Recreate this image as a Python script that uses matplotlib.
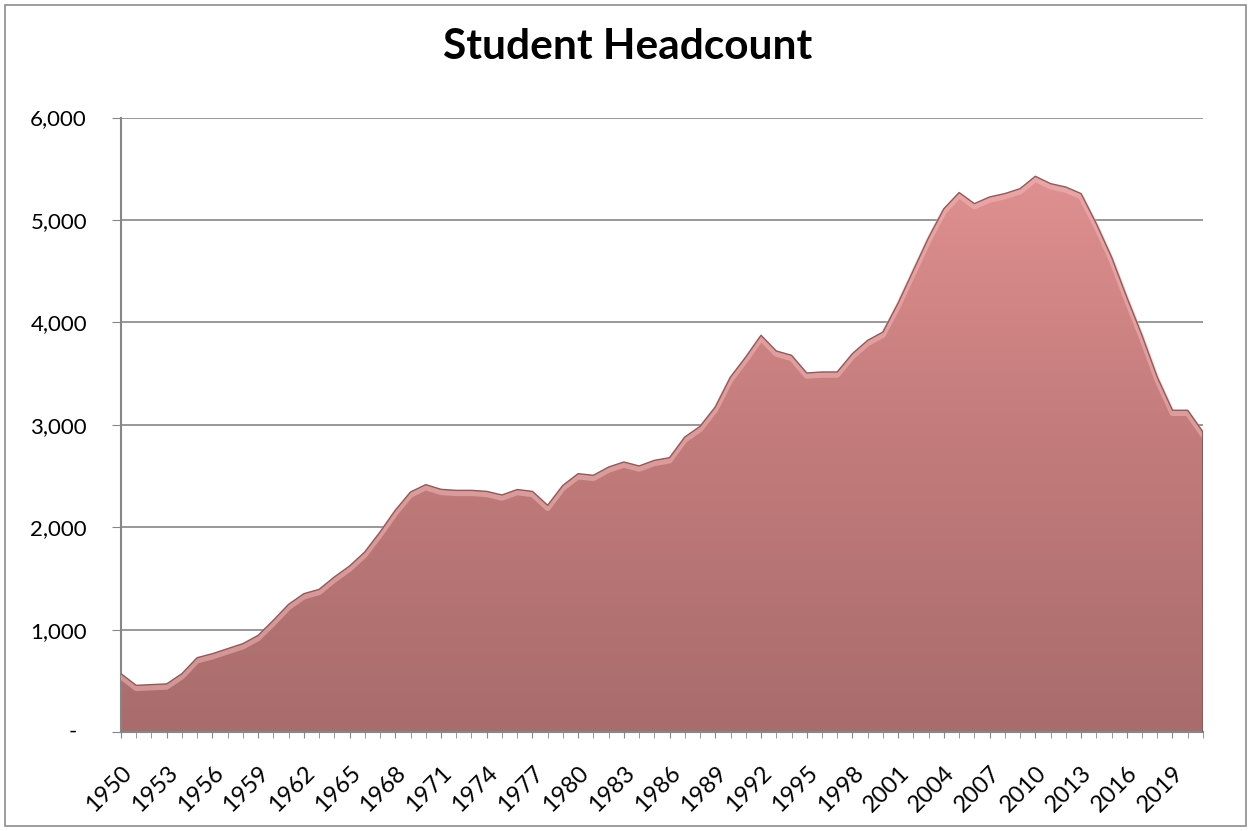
"""Student headcount area chart (Excel-style bevelled area, 1950-2021)."""
import matplotlib
matplotlib.use("Agg")
import matplotlib.pyplot as plt
import matplotlib.transforms as mtransforms
from matplotlib.colors import LinearSegmentedColormap
from matplotlib.patches import Rectangle
from matplotlib.ticker import FuncFormatter, MultipleLocator
import numpy as np

plt.rcParams["font.family"] = ["Lato", "DejaVu Sans"]

years = list(range(1950, 2022))
headcount = [
    570, 456, 463, 470, 570, 726, 765, 814, 863, 944,
    1091, 1247, 1351, 1393, 1514, 1621, 1758, 1953, 2165, 2344,
    2416, 2370, 2360, 2360, 2350, 2315, 2368, 2350, 2214, 2409,
    2523, 2507, 2588, 2637, 2598, 2653, 2679, 2881, 2985, 3174,
    3467, 3662, 3874, 3721, 3679, 3506, 3516, 3516, 3695, 3825,
    3906, 4190, 4510, 4830, 5110, 5268, 5160, 5225, 5258, 5306,
    5427, 5355, 5322, 5258, 4965, 4639, 4248, 3874, 3467, 3142,
    3142, 2930,
]
title = "Student Headcount"
y_ticks = [0, 1000, 2000, 3000, 4000, 5000, 6000]

GRID = "#868686"

fig = plt.figure(figsize=(12.51, 8.31), dpi=100)
ax = fig.add_axes([0.0967, 0.1191, 0.8649, 0.7394])

x = np.array(years)
y = np.array(headcount)

# gradient fill clipped to the area polygon
poly = ax.fill_between(x, y, 0, color="none", lw=0)
cmap = LinearSegmentedColormap.from_list("rose", ["#a96c6c", "#c47c7c", "#e69494"])
grad = np.linspace(0, 1, 256).reshape(-1, 1)
im = ax.imshow(grad, extent=[x[0], x[-1], 0, 6000], origin="lower",
               aspect="auto", cmap=cmap, zorder=2)
im.set_clip_path(poly.get_paths()[0], transform=ax.transData)

# bevel highlight just below the top edge, then the dark outline
shift = mtransforms.offset_copy(ax.transData, fig=fig, x=0, y=-3, units="dots")
ax.plot(x, y, color="#f2b8b8", lw=4, alpha=0.55, transform=shift, zorder=3,
        solid_joinstyle="round")
ax.plot(x, y, color="#8c5c5c", lw=1.0, zorder=4)
ax.plot([x[-1], x[-1]], [0, y[-1]], color="#8c5c5c", lw=1.5, zorder=4)

ax.set_xlim(x[0], x[-1])
ax.set_ylim(0, 6000)
ax.set_yticks(y_ticks)
ax.yaxis.set_major_formatter(FuncFormatter(lambda v, p: "" if v == 0 else f"{v:,.0f}"))
ax.text(-0.0444, 0, "-", transform=ax.get_yaxis_transform(), ha="center",
        va="center", fontsize=16)
ax.grid(axis="y", color=GRID, lw=1.2)
ax.set_axisbelow(True)

ax.xaxis.set_major_locator(MultipleLocator(3))
ax.xaxis.set_minor_locator(MultipleLocator(1))
ax.set_xticks(years[::3])
ax.set_xticklabels([str(v) for v in years[::3]], rotation=45, ha="right",
                   rotation_mode="anchor")
ax.tick_params(axis="x", which="both", length=4.5, color=GRID, labelsize=17, pad=17)
ax.tick_params(axis="y", length=6.5, color=GRID, labelsize=16, pad=18)

for side in ("top", "right"):
    ax.spines[side].set_visible(False)
for side in ("left", "bottom"):
    ax.spines[side].set_color(GRID)
    ax.spines[side].set_linewidth(1.5)

fig.text(0.5016, 0.929, title, ha="center", va="baseline", fontsize=30.5,
         fontweight="bold")
fig.patches.append(Rectangle((0.004, 0.006), 0.992, 0.988, transform=fig.transFigure,
                             fill=False, ec="#8c8c8c", lw=1.2))

fig.savefig("out.png", dpi=100)
